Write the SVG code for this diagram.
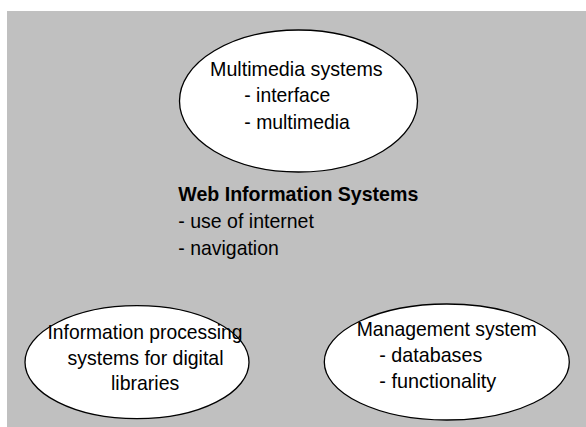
<svg xmlns="http://www.w3.org/2000/svg" width="586" height="427" viewBox="0 0 586 427">
<style>
.bg{fill:#c0c0c0;}
.node{fill:#ffffff;stroke:#000000;stroke-width:1.3;}
.t{font-family:"Liberation Sans",Arial,sans-serif;font-size:21px;fill:#000000;}
.b{font-weight:bold;font-size:20.5px;}
</style>
<rect class="bg" x="7" y="11" width="579" height="416"/>
<g id="connectors"></g>
<g id="multimedia">
<ellipse class="node" cx="298.5" cy="101" rx="119" ry="71"/>
<text class="t" x="210" y="75.7" textLength="172.7" lengthAdjust="spacingAndGlyphs">Multimedia systems</text>
<text class="t" x="244.3" y="102.3" textLength="86" lengthAdjust="spacingAndGlyphs">- interface</text>
<text class="t" x="244.3" y="129" textLength="105.5" lengthAdjust="spacingAndGlyphs">- multimedia</text>
</g>
<g id="web-info">
<text class="t b" x="178.3" y="200.7" textLength="240" lengthAdjust="spacingAndGlyphs">Web Information Systems</text>
<text class="t" x="178.3" y="228" textLength="135.6" lengthAdjust="spacingAndGlyphs">- use of internet</text>
<text class="t" x="178.3" y="254.5" textLength="100.5" lengthAdjust="spacingAndGlyphs">- navigation</text>
</g>
<g id="info-processing">
<ellipse class="node" cx="137" cy="362.2" rx="112" ry="56.5"/>
<text class="t" x="47.5" y="338.5" textLength="195" lengthAdjust="spacingAndGlyphs">Information processing</text>
<text class="t" x="67.5" y="364.5" textLength="156" lengthAdjust="spacingAndGlyphs">systems for digital</text>
<text class="t" x="111" y="390" textLength="68.3" lengthAdjust="spacingAndGlyphs">libraries</text>
</g>
<g id="management">
<ellipse class="node" cx="446.8" cy="362" rx="122.5" ry="58"/>
<text class="t" x="356.7" y="335.5" textLength="180" lengthAdjust="spacingAndGlyphs">Management system</text>
<text class="t" x="379.3" y="361.7" textLength="103" lengthAdjust="spacingAndGlyphs">- databases</text>
<text class="t" x="379.3" y="388" textLength="117" lengthAdjust="spacingAndGlyphs">- functionality</text>
</g>
</svg>
